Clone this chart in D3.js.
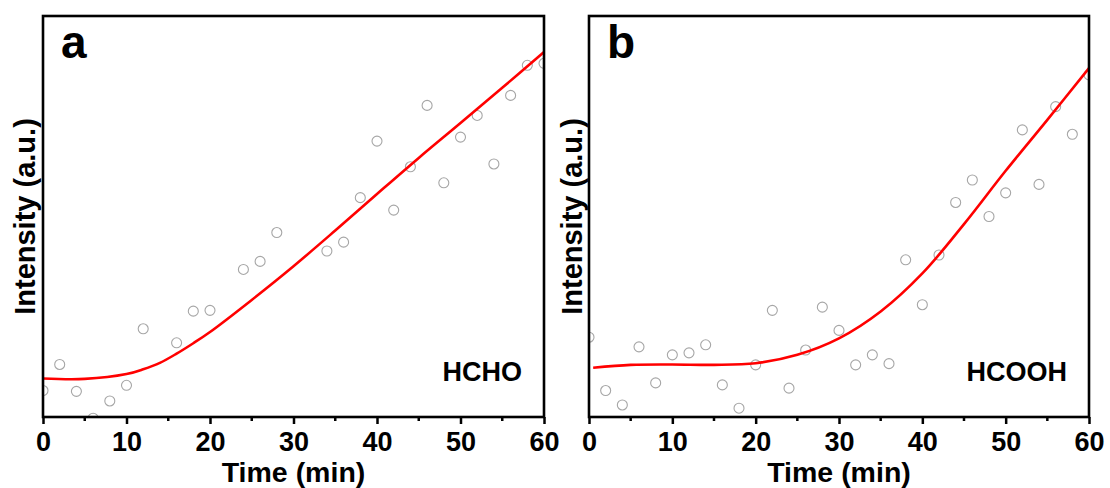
<!doctype html>
<html lang="en">
<head>
<meta charset="utf-8">
<title>HCHO / HCOOH intensity</title>
<script src="https://cdn.jsdelivr.net/npm/d3@7/dist/d3.min.js"></script>
<style>
	body { margin: 0; background: #fff; }
	text { font-family: "Liberation Sans", Arial, sans-serif; font-weight: bold; fill: #000; }
</style>
</head>
<body>
<div id="viz"></div>
<script>

// measured points, time in min, intensity in a.u. (0 = bottom axis, 100 = top)
var timeA = [0, 2, 4, 6, 8, 10, 12, 16, 18, 20, 24, 26, 28, 34, 36, 38, 40, 42, 44, 46, 48, 50, 52, 54, 56, 58, 60];
var intensityA = [6.6, 13.1, 6.4, -0.3, 4.0, 7.9, 22.0, 18.5, 26.4, 26.6, 36.8, 38.8, 46.0, 41.4, 43.6, 54.7, 68.8, 51.6, 62.4, 77.7, 58.4, 69.8, 75.2, 63.1, 80.2, 87.7, 88.2];

var timeB = [0, 2, 4, 6, 8, 10, 12, 14, 16, 18, 20, 22, 24, 26, 28, 30, 32, 34, 36, 38, 40, 42, 44, 46, 48, 50, 52, 54, 56, 58, 60];
var intensityB = [19.9, 6.6, 3.0, 17.5, 8.5, 15.5, 16.0, 18.0, 8.0, 2.2, 13.0, 26.6, 7.2, 16.7, 27.4, 21.6, 13.0, 15.5, 13.3, 39.2, 28.0, 40.4, 53.5, 59.1, 50.0, 55.9, 71.6, 58.0, 77.4, 70.5, 85.3];

// fitted curves
var fitTimeA = [0, 5, 10, 12, 14, 16, 18, 20, 25, 30, 35, 40, 45, 50, 55, 60];
var fitA = [9.6, 9.5, 10.7, 11.9, 13.5, 15.8, 18.4, 21.2, 29.2, 37.6, 46.5, 55.6, 64.6, 73.3, 82.1, 91.0];
var fitTimeB = [0.5, 5, 10, 15, 20, 25, 30, 35, 40, 45, 50, 55, 60];
var fitB = [12.3, 13.0, 13.1, 13.0, 13.4, 15.5, 19.6, 26.3, 35.8, 48.1, 61.4, 74.1, 87.0];

var majorTicks = [0, 10, 20, 30, 40, 50, 60];
var minorTicks = [5, 15, 25, 35, 45, 55];
var panelLetters = ["a", "b"];
var speciesNames = ["HCHO", "HCOOH"];
var xTitle = "Time (min)";
var yTitle = "Intensity (a.u.)";

var w = 1110, h = 488;

var svg = d3.select("#viz")
	.append("svg")
	.attr("width", w)
	.attr("height", h);

function drawPanel(p) {
	var xScale = d3.scaleLinear().domain([0, 60]).range([0, p.width]);
	var yScale = d3.scaleLinear().domain([0, 100]).range([p.height, 0]);

	var g = svg.append("g")
		.attr("transform", "translate(" + p.left + "," + p.top + ")");

	g.append("clipPath")
		.attr("id", "clip" + p.id)
		.append("rect")
		.attr("width", p.width)
		.attr("height", p.height);

	var plot = g.append("g").attr("clip-path", "url(#clip" + p.id + ")");

	plot.selectAll("circle")
		.data(p.times)
		.enter()
		.append("circle")
		.attr("cx", d => xScale(d))
		.attr("cy", (d, i) => yScale(p.values[i]))
		.attr("r", 5)
		.style("fill", "none")
		.style("stroke", "#a6a6a6")
		.style("stroke-width", 1.1);

	var fitLine = d3.line()
		.x(d => xScale(d[0]))
		.y(d => yScale(d[1]))
		.curve(d3.curveCatmullRom.alpha(0.5));

	plot.append("path")
		.attr("d", fitLine(d3.zip(p.fitTimes, p.fit)))
		.style("fill", "none")
		.style("stroke", "#ff0000")
		.style("stroke-width", 2.6);

	// x axis ticks (outward), major + minor
	var xAxis = d3.axisBottom(xScale)
		.tickValues(majorTicks)
		.tickSize(7)
		.tickPadding(8)
		.tickFormat(d3.format("d"));
	var xg = g.append("g")
		.attr("transform", "translate(0," + p.height + ")")
		.call(xAxis);
	xg.select(".domain").remove();
	xg.selectAll("line").style("stroke", "#000").style("stroke-width", 2.5);
	xg.selectAll("text")
		.style("font-family", '"Liberation Sans", Arial, sans-serif')
		.style("font-weight", "bold")
		.style("font-size", "27px")
		.style("fill", "#000");

	g.selectAll(".minor")
		.data(minorTicks)
		.enter()
		.append("line")
		.attr("class", "minor")
		.attr("x1", d => xScale(d))
		.attr("x2", d => xScale(d))
		.attr("y1", p.height)
		.attr("y2", p.height + 4)
		.style("stroke", "#000")
		.style("stroke-width", 2.5);

	// frame
	g.append("rect")
		.attr("width", p.width)
		.attr("height", p.height)
		.style("fill", "none")
		.style("stroke", "#000")
		.style("stroke-width", 2.6);

	g.append("text")
		.attr("x", 18)
		.attr("y", 42)
		.style("font-size", "46px")
		.text(p.letter);

	g.append("text")
		.attr("x", p.width - 22)
		.attr("y", 365)
		.attr("text-anchor", "end")
		.style("font-size", "27px")
		.text(p.name);

	g.append("text")
		.attr("x", p.width / 2)
		.attr("y", 466)
		.attr("text-anchor", "middle")
		.style("font-size", "28.5px")
		.text(xTitle);

	g.append("text")
		.attr("transform", "translate(" + p.titleX + "," + (p.height / 2) + ") rotate(-90)")
		.attr("text-anchor", "middle")
		.style("font-size", "29px")
		.text(yTitle);
}

drawPanel({id: "a", left: 43, top: 16, width: 501, height: 401, titleX: -8,
	times: timeA, values: intensityA, fitTimes: fitTimeA, fit: fitA,
	letter: panelLetters[0], name: speciesNames[0]});

drawPanel({id: "b", left: 589, top: 16, width: 500, height: 401, titleX: -7,
	times: timeB, values: intensityB, fitTimes: fitTimeB, fit: fitB,
	letter: panelLetters[1], name: speciesNames[1]});

</script>
</body>
</html>
